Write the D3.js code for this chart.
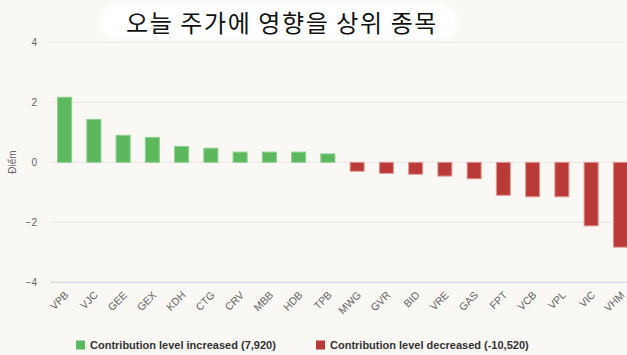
<!DOCTYPE html>
<html><head><meta charset="utf-8">
<script src="https://cdn.jsdelivr.net/npm/d3@7"></script>
<style>
html,body{margin:0;padding:0;background:#f9f8f4;overflow:hidden}
svg{display:block}
</style></head>
<body>
<script>
const categories = ["VPB","VJC","GEE","GEX","KDH","CTG","CRV","MBB","HDB","TPB","MWG","GVR","BID","VRE","GAS","FPT","VCB","VPL","VIC","VHM"];
const values = [2.17,1.43,0.90,0.83,0.53,0.47,0.34,0.34,0.34,0.28,-0.30,-0.37,-0.40,-0.46,-0.55,-1.10,-1.15,-1.15,-2.12,-2.83];
const yTicks = [-4,-2,0,2,4];
const title = "오늘 주가에 영향을 상위 종목";
const yLabel = "Điểm";
const legendLabels = ["Contribution level increased (7,920)","Contribution level decreased (-10,520)"];
const colors = ["#5cb85c","#b93a36"];

const W=627,H=355;
const svg=d3.select("body").append("svg").attr("width",W).attr("height",H);
svg.append("rect").attr("width",W).attr("height",H).attr("fill","#f9f8f4");

// title pill
const defs=svg.append("defs");
const f=defs.append("filter").attr("id","blur").attr("x","-10%").attr("y","-50%").attr("width","120%").attr("height","200%");
f.append("feGaussianBlur").attr("stdDeviation",3);
svg.append("rect").attr("x",100).attr("y",4).attr("width",358).attr("height",36).attr("rx",18)
  .attr("fill","#ffffff").attr("filter","url(#blur)");
svg.append("text").attr("x",282).attr("y",32).attr("text-anchor","middle")
  .attr("font-family","'Noto Sans CJK KR', sans-serif").attr("font-size",24).attr("letter-spacing",1.6).attr("fill","#111")
  .text(title);

const x=d3.scaleBand().domain(categories).range([50,635]).paddingInner(0.52).paddingOuter(0.26);
const y=d3.scaleLinear().domain([-4,4]).range([282.3,42.3]);

// grid
svg.append("g").selectAll("line").data(yTicks).join("line")
  .attr("x1",50).attr("x2",W).attr("y1",d=>y(d)).attr("y2",d=>y(d))
  .attr("stroke",d=>d===-4?"#dde1ea":"#e8e7e3").attr("stroke-width",d=>d===-4?2:1);

// y axis labels
const yAxis=d3.axisLeft(y).tickValues(yTicks).tickSize(0).tickPadding(0).tickFormat(d3.format("d"));
const gy=svg.append("g").attr("transform","translate(37,0)").call(yAxis);
gy.select(".domain").remove();
gy.selectAll("text").attr("font-family","Arial, 'Liberation Sans', sans-serif").attr("font-size",10).attr("fill","#666").attr("dy","0.32em");

svg.append("text").attr("transform","translate(16,162) rotate(-90)").attr("text-anchor","middle")
  .attr("font-family","Arial, 'Liberation Sans', sans-serif").attr("font-size",10).attr("fill","#666").text(yLabel);

// bars
svg.append("g").selectAll("rect").data(values).join("rect")
  .attr("x",(d,i)=>x(categories[i]))
  .attr("width",x.bandwidth())
  .attr("y",d=>d>=0?y(d):y(0))
  .attr("height",d=>Math.abs(y(d)-y(0)))
  .attr("fill",d=>d>=0?colors[0]:colors[1])
  .attr("stroke",d=>d>=0?"#8fd08f":"#e39a97").attr("stroke-width",1);

// x axis labels
const xAxis=d3.axisBottom(x).tickSize(0).tickPadding(0);
const gx=svg.append("g").attr("transform","translate(-2,292)").call(xAxis);
gx.select(".domain").remove();
gx.selectAll("text").attr("font-family","Arial, 'Liberation Sans', sans-serif").attr("font-size",10.5).attr("fill","#666")
  .attr("text-anchor","end").attr("dy","0.7em").attr("dx","0.2em").attr("transform","rotate(-45)");

// legend
const lg=[{x:76,label:legendLabels[0],c:colors[0]},{x:316,label:legendLabels[1],c:colors[1]}];
const l=svg.append("g").selectAll("g").data(lg).join("g");
l.append("rect").attr("x",d=>d.x).attr("y",340.5).attr("width",9).attr("height",9).attr("fill",d=>d.c);
l.append("text").attr("x",d=>d.x+14).attr("y",349).attr("font-family","Arial, 'Liberation Sans', sans-serif")
  .attr("font-size",11).attr("font-weight","bold").attr("fill","#333").text(d=>d.label);
</script>
</body></html>
